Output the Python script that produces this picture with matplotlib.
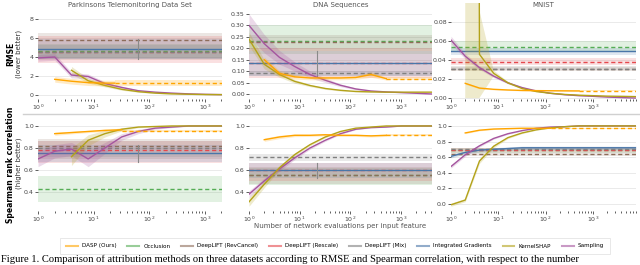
import matplotlib
matplotlib.use("Agg")
import numpy as np
import matplotlib.pyplot as plt
from matplotlib.lines import Line2D

plt.rcParams["font.family"] = ["DejaVu Sans"]
plt.rcParams["mathtext.fontset"] = "cm"

METHODS = ["DASP (Ours)", "Occlusion", "DeepLIFT (RevCancel)", "DeepLIFT (Rescale)",
           "DeepLIFT (Mix)", "Integrated Gradients", "KernelSHAP", "Sampling"]
COLORS = ["#FFA500", "#55AD55", "#8E6D5A", "#E5484D", "#808080", "#4A76A8", "#B3A21A", "#A5559F"]
FLAT_STYLES = ["--", "--", "--", "--", "-"]   # occlusion, revcancel, rescale, mix, ig

DATASETS = ["Parkinsons Telemonitoring Data Set", "DNA Sequences", "MNIST"]
XMAX = [2048, 4096, 8192]
IG_STEPS = [64, 22, None]

# ---------------- RMSE (top row) ----------------
# Parkinsons
park_rmse_x = [1, 2, 4, 8, 16, 32, 64, 128, 256, 512, 1024, 2048]
park_rmse_sampling = [3.9, 4.0, 2.1, 1.95, 1.2, 0.8, 0.45, 0.3, 0.2, 0.12, 0.07, 0.04]
park_rmse_sampling_sd = [0.35, 0.35, 0.3, 0.25, 0.2, 0.12, 0.08, 0.05, 0.03, 0.02, 0.02, 0.01]
park_rmse_kshap_x = [4, 8, 16, 32, 64, 128, 256, 512, 1024, 2048]
park_rmse_kshap = [2.6, 1.5, 1.0, 0.6, 0.35, 0.2, 0.12, 0.08, 0.05, 0.04]
park_rmse_kshap_sd = [0.4, 0.25, 0.15, 0.1, 0.06, 0.04, 0.03, 0.02, 0.02, 0.01]
park_rmse_dasp_x = [2, 4, 8, 16, 24]
park_rmse_dasp = [1.65, 1.45, 1.3, 1.25, 1.25]
park_rmse_dasp_sd = [0.3, 0.3, 0.3, 0.3, 0.3]
park_rmse_flat = [4.65, 5.8, 4.5, 4.55, 4.8]
park_rmse_flat_lo = [3.9, 3.7, 3.4, 3.8, 3.8]
park_rmse_flat_hi = [5.4, 6.5, 6.2, 5.3, 5.9]

# DNA
dna_rmse_x = [1, 2, 4, 8, 16, 32, 64, 128, 256, 512, 1024, 2048, 4096]
dna_rmse_sampling = [0.30, 0.22, 0.16, 0.12, 0.085, 0.06, 0.038, 0.022, 0.013, 0.009, 0.006, 0.003, 0.0]
dna_rmse_sampling_sd = [0.05, 0.04, 0.03, 0.02, 0.015, 0.01, 0.006, 0.004, 0.003, 0.002, 0.001, 0.001, 0.001]
dna_rmse_kshap = [0.24, 0.13, 0.085, 0.055, 0.037, 0.024, 0.016, 0.011, 0.009, 0.008, 0.008, 0.008, 0.008]
dna_rmse_kshap_sd = [0.03, 0.02, 0.012, 0.008, 0.005, 0.004, 0.003, 0.002, 0.001, 0.001, 0.001, 0.001, 0.001]
dna_rmse_dasp_x = [2, 4, 8, 16, 32, 64, 128, 256, 512]
dna_rmse_dasp = [0.15, 0.09, 0.075, 0.07, 0.07, 0.07, 0.072, 0.085, 0.067]
dna_rmse_dasp_sd = [0.012, 0.012, 0.01, 0.008, 0.008, 0.008, 0.008, 0.012, 0.006]
dna_rmse_flat = [0.23, 0.228, 0.135, 0.09, 0.135]
dna_rmse_flat_lo = [0.175, 0.19, 0.07, 0.078, 0.08]
dna_rmse_flat_hi = [0.30, 0.26, 0.20, 0.102, 0.19]

# MNIST
mnist_rmse_x = [1, 2, 4, 8, 16, 32, 64, 128, 256, 512, 1024, 2048, 4096, 8192]
mnist_rmse_sampling = [0.061, 0.044, 0.032, 0.023, 0.016, 0.011, 0.0075, 0.005, 0.0035, 0.0025, 0.0018, 0.001, 0.0005, 0.0]
mnist_rmse_sampling_sd = [0.004, 0.003, 0.002, 0.0015, 0.001, 0.0008, 0.0005, 0.0004, 0.0003, 0.0002, 0.0002, 0.0001, 0.0001, 0.0001]
mnist_rmse_kshap_x = [2, 4, 8, 16, 32, 64, 128, 256, 512, 1024, 2048, 4096, 8192]
mnist_rmse_kshap = [5.0, 0.046, 0.026, 0.016, 0.010, 0.0068, 0.005, 0.0038, 0.003, 0.0025, 0.002, 0.0018, 0.0015]
mnist_rmse_kshap_sd = [5.0, 0.046, 0.003, 0.0012, 0.0008, 0.0005, 0.0004, 0.0003, 0.0002, 0.0002, 0.0001, 0.0001, 0.0001]
mnist_rmse_dasp_x = [2, 4, 8, 16, 32, 64, 128, 256, 512]
mnist_rmse_dasp = [0.0155, 0.0105, 0.0092, 0.0085, 0.008, 0.0078, 0.0077, 0.0076, 0.0075]
mnist_rmse_dasp_sd = [0.001, 0.0008, 0.0006, 0.0005, 0.0005, 0.0005, 0.0005, 0.0005, 0.0005]
mnist_rmse_flat = [0.054, 0.031, 0.038, 0.0305, 0.0495]
mnist_rmse_flat_lo = [0.048, 0.028, 0.035, 0.029, 0.045]
mnist_rmse_flat_hi = [0.060, 0.034, 0.042, 0.033, 0.053]

# ---------------- Spearman (bottom row) ----------------
park_sp_sampling = [0.70, 0.77, 0.79, 0.70, 0.80, 0.90, 0.95, 0.98, 0.99, 1.0, 1.0, 1.0]
park_sp_sampling_sd = [0.07, 0.06, 0.06, 0.07, 0.05, 0.03, 0.02, 0.01, 0.005, 0.003, 0.002, 0.002]
park_sp_kshap = [0.72, 0.87, 0.93, 0.97, 0.99, 0.995, 1.0, 1.0, 1.0, 1.0]
park_sp_kshap_sd = [0.08, 0.05, 0.03, 0.015, 0.006, 0.004, 0.002, 0.002, 0.002, 0.002]
park_sp_dasp_x = [2, 4, 8, 16, 32]
park_sp_dasp = [0.93, 0.94, 0.95, 0.96, 0.965]
park_sp_dasp_sd = [0.015, 0.012, 0.01, 0.01, 0.01]
park_sp_dasp_tail = 0.955
park_sp_flat = [0.43, 0.82, 0.78, 0.80, 0.755]
park_sp_flat_lo = [0.31, 0.70, 0.66, 0.72, 0.67]
park_sp_flat_hi = [0.545, 0.88, 0.86, 0.86, 0.83]

dna_sp_sampling = [0.38, 0.50, 0.61, 0.71, 0.80, 0.87, 0.93, 0.97, 0.985, 0.99, 1.0, 1.0, 1.0]
dna_sp_sampling_sd = [0.03, 0.025, 0.02, 0.015, 0.012, 0.01, 0.006, 0.004, 0.003, 0.002, 0.002, 0.002, 0.002]
dna_sp_kshap = [0.31, 0.47, 0.62, 0.74, 0.83, 0.90, 0.95, 0.98, 0.99, 1.0, 1.0, 1.0, 1.0]
dna_sp_kshap_sd = [0.04, 0.03, 0.02, 0.015, 0.01, 0.008, 0.005, 0.003, 0.002, 0.002, 0.002, 0.002, 0.002]
dna_sp_dasp_x = [2, 4, 8, 16, 32, 64, 128, 256, 512]
dna_sp_dasp = [0.875, 0.90, 0.915, 0.915, 0.92, 0.915, 0.915, 0.91, 0.915]
dna_sp_dasp_sd = [0.015, 0.015, 0.012, 0.01, 0.01, 0.01, 0.01, 0.01, 0.01]
dna_sp_dasp_tail = 0.915
dna_sp_flat = [0.55, 0.55, 0.60, 0.715, 0.60]
dna_sp_flat_lo = [0.46, 0.47, 0.50, 0.685, 0.53]
dna_sp_flat_hi = [0.62, 0.63, 0.66, 0.745, 0.66]

mnist_sp_sampling = [0.48, 0.63, 0.745, 0.84, 0.90, 0.94, 0.97, 0.985, 0.99, 1.0, 1.0, 1.0, 1.0, 1.0]
mnist_sp_sampling_sd = [0.02, 0.02, 0.015, 0.01, 0.008, 0.006, 0.004, 0.003, 0.002, 0.002, 0.002, 0.002, 0.002, 0.002]
mnist_sp_kshap = [-0.01, 0.05, 0.55, 0.74, 0.85, 0.91, 0.95, 0.975, 0.99, 1.0, 1.0, 1.0, 1.0, 1.0]
mnist_sp_kshap_sd = [0.02, 0.02, 0.03, 0.02, 0.012, 0.008, 0.005, 0.003, 0.002, 0.002, 0.002, 0.002, 0.002, 0.002]
mnist_sp_dasp_x = [2, 4, 8, 16, 32, 64, 128]
mnist_sp_dasp = [0.91, 0.945, 0.96, 0.965, 0.97, 0.97, 0.97]
mnist_sp_dasp_sd = [0.01, 0.008, 0.006, 0.005, 0.005, 0.005, 0.005]
mnist_sp_dasp_tail = 0.97
mnist_sp_ig = [0.61, 0.66, 0.69, 0.70, 0.71, 0.72, 0.72, 0.72, 0.72, 0.72, 0.72, 0.72, 0.72, 0.72]
mnist_sp_ig_sd = [0.02, 0.02, 0.02, 0.02, 0.02, 0.02, 0.02, 0.02, 0.02, 0.02, 0.02, 0.02, 0.02, 0.02]
mnist_sp_flat = [0.685, 0.64, 0.69, 0.70, 0.72]
mnist_sp_flat_lo = [0.65, 0.61, 0.66, 0.68, 0.70]
mnist_sp_flat_hi = [0.72, 0.67, 0.72, 0.72, 0.74]

YLIMS_TOP = [(-0.42, 9.68), (-0.022, 0.398), (-0.001, 0.1)]
YLIMS_BOT = [(0.227, 1.036), (0.227, 1.036), (-0.09, 1.05)]
YTICKS_TOP = [[0, 2, 4, 6, 8], [0, .05, .1, .15, .2, .25, .3, .35], [0, .02, .04, .06, .08]]
YTICKS_BOT = [[.4, .6, .8, 1.0], [.4, .6, .8, 1.0], [0, .2, .4, .6, .8, 1.0]]

CAPTION = ("Figure 1. Comparison of attribution methods on three datasets according to RMSE and "
           "Spearman correlation, with respect to the number")


def curve(ax, x, y, sd, color, ls="-", z=4):
    x = np.asarray(x, float)
    y = np.asarray(y, float)
    sd = np.asarray(sd, float)
    ax.fill_between(x, y - sd, y + sd, color=color, alpha=0.22, lw=0, zorder=z - 1)
    ax.plot(x, y, color=color, lw=1.0, ls=ls, zorder=z)


def dasp(ax, x, y, sd, xmax, tail=None):
    curve(ax, x, y, sd, COLORS[0], z=6)
    t = y[-1] if tail is None else tail
    ax.fill_between([x[-1], xmax], t - sd[-1], t + sd[-1], color=COLORS[0], alpha=0.22, lw=0, zorder=5)
    ax.plot([x[-1], xmax], [t, t], color=COLORS[0], lw=1.0, ls=(0, (3, 2)), zorder=6)


def flats(ax, vals, lo, hi, skip_ig=False):
    for i, (v, l, h) in enumerate(zip(vals, lo, hi)):
        if skip_ig and i == 4:
            continue
        c = COLORS[i + 1]
        ax.axhspan(l, h, color=c, alpha=0.17, lw=0, zorder=1)
        ls = (0, (3, 2)) if FLAT_STYLES[i] == "--" else "-"
        ax.axhline(v, color=c, lw=1.0, ls=ls, zorder=3)


fig = plt.figure(figsize=(6.4, 2.65), dpi=100)
W, H = 640.0, 265.0
cols = [(38, 184), (249, 183), (451, 185)]
axes_top, axes_bot = [], []
for (x0, w) in cols:
    axes_top.append(fig.add_axes([x0 / W, 1 - 99 / H, w / W, 96 / H]))
    axes_bot.append(fig.add_axes([x0 / W, 1 - 211 / H, w / W, 89 / H]))

# top row
a = axes_top[0]
flats(a, park_rmse_flat, park_rmse_flat_lo, park_rmse_flat_hi)
curve(a, park_rmse_x, park_rmse_sampling, park_rmse_sampling_sd, COLORS[7])
curve(a, park_rmse_kshap_x, park_rmse_kshap, park_rmse_kshap_sd, COLORS[6])
dasp(a, park_rmse_dasp_x, park_rmse_dasp, park_rmse_dasp_sd, XMAX[0])

a = axes_top[1]
flats(a, dna_rmse_flat, dna_rmse_flat_lo, dna_rmse_flat_hi)
curve(a, dna_rmse_x, dna_rmse_sampling, dna_rmse_sampling_sd, COLORS[7])
curve(a, dna_rmse_x, dna_rmse_kshap, dna_rmse_kshap_sd, COLORS[6])
dasp(a, dna_rmse_dasp_x, dna_rmse_dasp, dna_rmse_dasp_sd, XMAX[1])

a = axes_top[2]
flats(a, mnist_rmse_flat, mnist_rmse_flat_lo, mnist_rmse_flat_hi)
curve(a, mnist_rmse_x, mnist_rmse_sampling, mnist_rmse_sampling_sd, COLORS[7])
curve(a, mnist_rmse_kshap_x, mnist_rmse_kshap, mnist_rmse_kshap_sd, COLORS[6])
dasp(a, mnist_rmse_dasp_x, mnist_rmse_dasp, mnist_rmse_dasp_sd, XMAX[2])

# bottom row
a = axes_bot[0]
flats(a, park_sp_flat, park_sp_flat_lo, park_sp_flat_hi)
curve(a, park_rmse_x, park_sp_sampling, park_sp_sampling_sd, COLORS[7])
curve(a, park_rmse_kshap_x, park_sp_kshap, park_sp_kshap_sd, COLORS[6])
dasp(a, park_sp_dasp_x, park_sp_dasp, park_sp_dasp_sd, XMAX[0], park_sp_dasp_tail)

a = axes_bot[1]
flats(a, dna_sp_flat, dna_sp_flat_lo, dna_sp_flat_hi)
curve(a, dna_rmse_x, dna_sp_sampling, dna_sp_sampling_sd, COLORS[7])
curve(a, dna_rmse_x, dna_sp_kshap, dna_sp_kshap_sd, COLORS[6])
dasp(a, dna_sp_dasp_x, dna_sp_dasp, dna_sp_dasp_sd, XMAX[1], dna_sp_dasp_tail)

a = axes_bot[2]
flats(a, mnist_sp_flat, mnist_sp_flat_lo, mnist_sp_flat_hi, skip_ig=True)
curve(a, mnist_rmse_x, mnist_sp_ig, mnist_sp_ig_sd, COLORS[5], z=3)
curve(a, mnist_rmse_x, mnist_sp_sampling, mnist_sp_sampling_sd, COLORS[7])
curve(a, mnist_rmse_x, mnist_sp_kshap, mnist_sp_kshap_sd, COLORS[6])
dasp(a, mnist_sp_dasp_x, mnist_sp_dasp, mnist_sp_dasp_sd, XMAX[2], mnist_sp_dasp_tail)

# IG step markers
ig_ranges = [
    (axes_top[0], park_rmse_flat_lo[4], park_rmse_flat_hi[4], IG_STEPS[0]),
    (axes_bot[0], park_sp_flat_lo[4], park_sp_flat_hi[4], IG_STEPS[0]),
    (axes_top[1], dna_rmse_flat_lo[4], dna_rmse_flat_hi[4], IG_STEPS[1]),
    (axes_bot[1], dna_sp_flat_lo[4], dna_sp_flat_hi[4], IG_STEPS[1]),
]
for a, lo, hi, st in ig_ranges:
    a.plot([st, st], [lo, hi], color="#8a8a8a", lw=0.8, zorder=3)

for row, ylims, yticks, fmt in [(axes_top, YLIMS_TOP, YTICKS_TOP, "%.2f"), (axes_bot, YLIMS_BOT, YTICKS_BOT, "%.1f")]:
    for i, a in enumerate(row):
        a.set_xscale("log")
        a.set_xlim(1, XMAX[i])
        a.set_ylim(*ylims[i])
        a.set_yticks(yticks[i])
        f = "%g" if (row is axes_top and i == 0) else fmt
        a.set_yticklabels([f % t for t in yticks[i]])
        for s in a.spines.values():
            s.set_visible(False)
        a.grid(axis="y", color="#E6E6E6", lw=0.6, zorder=0)
        a.set_axisbelow(True)
        a.tick_params(axis="both", which="major", labelsize=4.5, labelcolor="#444444",
                      length=2, width=0.6, color="#444444", pad=1)
        a.tick_params(axis="x", which="minor", length=1.2, width=0.6, color="#444444")

for i, a in enumerate(axes_top):
    cx = (cols[i][0] + cols[i][1] / 2) / W
    fig.text(cx, 1 - 5 / H, DATASETS[i], ha="center", va="center", fontsize=5, color="#555555")

fig.text(11 / W, 1 - 54 / H, "RMSE", rotation=90, ha="center", va="center", fontsize=5.5, fontweight="bold")
fig.text(19 / W, 1 - 54 / H, "(lower better)", rotation=90, ha="center", va="center", fontsize=5, color="#333333")
fig.text(11 / W, 1 - 165 / H, "Spearman rank correlation", rotation=90, ha="center", va="center", fontsize=5.5, fontweight="bold")
fig.text(19 / W, 1 - 163 / H, "(higher better)", rotation=90, ha="center", va="center", fontsize=5, color="#333333")

fig.text(340 / W, 1 - 226 / H, "Number of network evaluations per input feature", ha="center", va="center",
         fontsize=5, color="#555555")

fig.add_artist(Line2D([23 / W, 1.0], [1 - 114 / H, 1 - 114 / H], transform=fig.transFigure, color="#D0D0D0", lw=1.0))

r = fig.canvas.get_renderer()
handles = [Line2D([], [], color=c, lw=1.5, alpha=0.6) for c in COLORS]


def make_legend(fs):
    lg = fig.legend(handles, METHODS, loc="center", bbox_to_anchor=(335 / W, 1 - 246 / H), ncol=8,
                    fontsize=fs, frameon=True, handlelength=2.1, columnspacing=1.9, borderpad=1.0,
                    handletextpad=0.75, fancybox=False, edgecolor="#DDDDDD")
    lg.get_frame().set_linewidth(0.6)
    return lg


fs = 4.8
leg = make_legend(fs)
lw_px = leg.get_window_extent(r).width
if lw_px > 553:
    leg.remove()
    leg = make_legend(fs * 553 / lw_px)

cap = fig.text(1 / W, 1 - 259 / H, CAPTION, ha="left", va="center", fontsize=7.6, family="Liberation Serif")
wpx = cap.get_window_extent(r).width
if wpx > 637:
    cap.set_fontsize(7.6 * 637 / wpx)

fig.savefig("out.png", dpi=100)
